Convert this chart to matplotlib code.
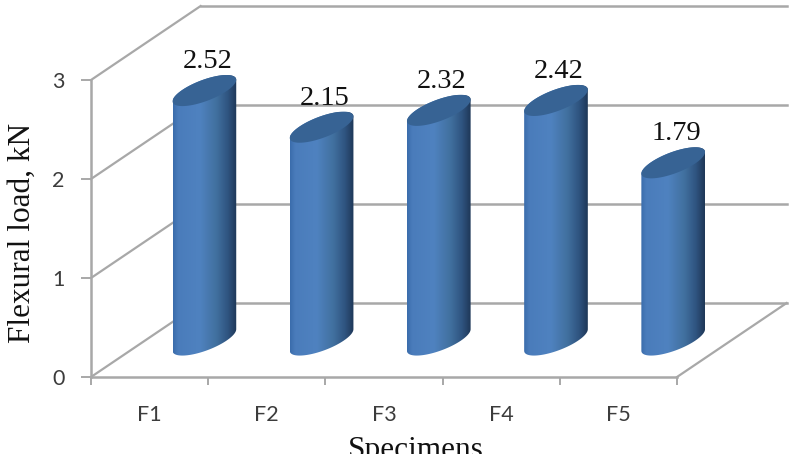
import matplotlib
matplotlib.use('agg')
import matplotlib.pyplot as plt
from matplotlib.colors import LinearSegmentedColormap
from matplotlib.patches import Polygon
import numpy as np

categories = ['F1', 'F2', 'F3', 'F4', 'F5']
loads = [2.52, 2.15, 2.32, 2.42, 1.79]
y_ticks = [0, 1, 2, 3]

GRID = '#a8a8a8'
SERIF = 'Liberation Serif'
SANS = 'Lato'

# 3d box depth and cylinder shape, in data units
depth_x = 0.935
depth_y = 0.747
radius_w = 0.196
radius_dx = 0.188
radius_dy = 0.157

shade = LinearSegmentedColormap.from_list('cyl', [
    (0.0, '#3a6cab'), (0.08, '#4a7cbb'), (0.42, '#4f82c0'),
    (0.68, '#41709f'), (0.86, '#2f5480'), (1.0, '#1e3757')])


def ellipse(cx, cy, t):
    x = cx + radius_w * np.cos(t) + radius_dx * np.sin(t)
    y = cy + radius_dy * np.sin(t)
    return x, y


fig = plt.figure(figsize=(7.91, 4.54), dpi=100)
ax = fig.add_axes([91 / 791, 77 / 454, 586 / 791, 297 / 454])

# walls and floor
for v in y_ticks:
    ax.plot([0, depth_x], [v, v + depth_y], color=GRID, lw=1.6, clip_on=False, zorder=1)
    ax.plot([depth_x, 5 + depth_x], [v + depth_y, v + depth_y], color=GRID, lw=1.8, clip_on=False, zorder=1)
ax.plot([5, 5 + depth_x], [0, depth_y], color=GRID, lw=1.6, clip_on=False, zorder=1)

t0 = np.arctan2(radius_dx, radius_w)
half = np.hypot(radius_w, radius_dx)
gradient = np.linspace(0, 1, 256).reshape(1, -1)

for i, (name, load) in enumerate(zip(categories, loads)):
    cx = i + 0.5 + depth_x / 2
    base = depth_y / 2

    # cylinder body, shaded left to right and cut to its outline
    t_low = np.linspace(t0 + np.pi, t0 + 2 * np.pi, 60)
    t_up = np.linspace(t0, t0 + np.pi, 60)
    xl, yl = ellipse(cx, base, t_low)
    xu, yu = ellipse(cx, base + load, t_up)
    outline = Polygon(np.column_stack([np.r_[xl, xu], np.r_[yl, yu]]),
                      closed=True, transform=ax.transData, fc='none', ec='none')
    ax.add_patch(outline)
    im = ax.imshow(gradient, cmap=shade, aspect='auto', zorder=3,
                   extent=[cx - half, cx + half, base - radius_dy, base + load + radius_dy])
    im.set_clip_box(fig.bbox)
    im.set_clip_path(outline)

    # top face
    tx, ty = ellipse(cx, base + load, np.linspace(0, 2 * np.pi, 120))
    ax.fill(tx, ty, color='#376394', lw=0, zorder=4, clip_on=False)

    ax.annotate('%.2f' % load, (cx, base + load), xytext=(3, 29), textcoords='offset pixels',
                ha='center', va='center', family=SERIF, fontsize=20.5, color='#111111',
                zorder=5, annotation_clip=False)

ax.set_xlim(0, 5)
ax.set_ylim(0, 3)
ax.set_xticks(range(6))
ax.set_xticklabels([])
ax.set_xticks(np.arange(5) + 0.5, categories, minor=True, family=SANS, fontsize=15.5, color='#3c3c3c')
ax.set_yticks(y_ticks)
ax.set_yticklabels(y_ticks, family=SANS, fontsize=15.5, color='#3c3c3c')
ax.tick_params(axis='x', which='major', length=6, width=1.4, color=GRID)
ax.tick_params(axis='x', which='minor', length=0, pad=20)
ax.tick_params(axis='y', length=7, width=1.4, color=GRID, pad=12)

ax.patch.set_alpha(0)
for side in ['top', 'right']:
    ax.spines[side].set_visible(False)
for side in ['left', 'bottom']:
    ax.spines[side].set_color(GRID)
    ax.spines[side].set_linewidth(1.8)

fig.text(22 / 791, 1 - 233 / 454, 'Flexural load, kN', rotation=90, ha='center', va='center',
         family=SERIF, fontsize=22.5, color='#111111')
# sits on the bottom edge of the figure, descender runs off
fig.text(416 / 791, 1 - 458 / 454, 'Specimens', ha='center', va='baseline',
         family=SERIF, fontsize=22.5, color='#111111')

fig.savefig('out.png', dpi=100)
